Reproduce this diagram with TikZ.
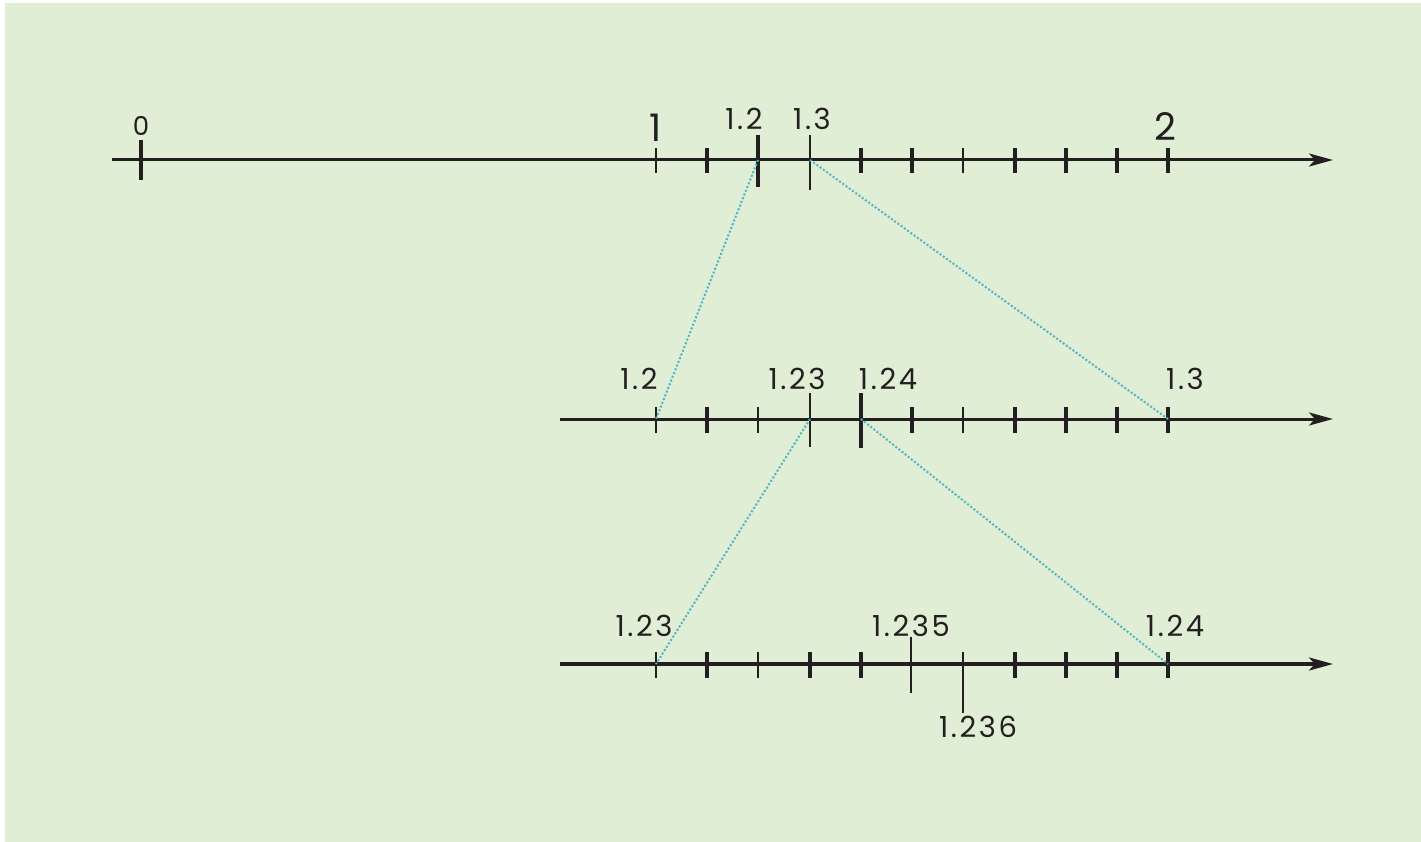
\documentclass[tikz,border=0pt]{standalone}
\usepackage{fontspec}
\setmainfont{Poppins}
\newfontfamily\labfont[LetterSpace=9]{Poppins}
\usetikzlibrary{arrows.meta}
\definecolor{bg}{RGB}{223,238,213}
\definecolor{ink}{RGB}{35,31,32}
\definecolor{guide}{RGB}{80,180,196}
\tikzset{
  axis/.style={draw=ink,line width=3pt,-{Stealth[length=24pt,width=13pt,inset=6pt]}},
  thintick/.style={draw=ink,line width=2pt},
  thicktick/.style={draw=ink,line width=4.5pt},
  guideline/.style={draw=guide,line width=2pt,dash pattern=on 2pt off 2pt},
  lab/.style={text=ink,font=\labfont\fontsize{29}{29}\selectfont,anchor=base,inner sep=0pt},
  biglab/.style={text=ink,font=\fontsize{38}{38}\selectfont,anchor=base,inner sep=0pt},
  smalllab/.style={text=ink,font=\fontsize{26}{26}\selectfont,anchor=base,inner sep=0pt}
}
\begin{document}
\begin{tikzpicture}[x=1pt,y=-1pt]
\useasboundingbox (0,0) rectangle (1421,842);
\fill[bg] (5,3) rectangle (1421,842);
% axes
\coordinate (a1s) at (112,160); \coordinate (a1e) at (1333,160);
\coordinate (a2s) at (560,419); \coordinate (a2e) at (1333,419);
\coordinate (a3s) at (560,664); \coordinate (a3e) at (1333,664);
\draw[axis] (a1s) -- (a1e);
\draw[axis] (a2s) -- (a2e);
\draw[axis,line width=3.5pt] (a3s) -- (a3e);
% top ticks
\draw[thicktick] (141,140) -- (141,180);
\foreach \x in {656,963} \draw[thintick] (\x,148) -- (\x,173);
\foreach \x in {707,861,912,1015,1066,1117,1168} \draw[thicktick] (\x,148) -- (\x,173);
\draw[thicktick] (758,135) -- (758,187);
\draw[thintick] (810,135) -- (810,190);
% middle ticks
\foreach \x in {656,758,963} \draw[thintick] (\x,407) -- (\x,433);
\foreach \x in {707,912,1015,1066,1117,1168} \draw[thicktick] (\x,407) -- (\x,433);
\draw[thintick] (810,393) -- (810,447);
\draw[thicktick] (861,393) -- (861,448);
% bottom ticks
\foreach \x in {656,758} \draw[thintick] (\x,652) -- (\x,678);
\foreach \x in {707,810,861,1015,1066,1117,1168} \draw[thicktick] (\x,652) -- (\x,678);
\draw[thintick] (911,637) -- (911,693);
\draw[thintick] (963,652) -- (963,713);
% guide points
\coordinate (t12) at (758,160); \coordinate (t13) at (810,160);
\coordinate (m12) at (656,419); \coordinate (m13) at (1168,419);
\coordinate (m123) at (810,419); \coordinate (m124) at (861,419);
\coordinate (b123) at (656,664); \coordinate (b124) at (1168,664);
\draw[guideline] (t12) -- (m12);
\draw[guideline] (t13) -- (m13);
\draw[guideline] (m123) -- (b123);
\draw[guideline] (m124) -- (b124);
% labels
\node[smalllab] (l0) at (141,136) {0};
\node[biglab] (l1) at (656,142) {1};
\node[lab] (l12) at (744,130) {1.2};
\node[lab] (l13) at (812,130) {1.3};
\node[biglab] (l2) at (1165,141) {2};
\node[lab] (m12l) at (639,389) {1.2};
\node[lab] (m123l) at (797,389) {1.23};
\node[lab] (m124l) at (888,389) {1.24};
\node[lab] (m13l) at (1185,389) {1.3};
\node[lab] (b123l) at (644,636) {1.23};
\node[lab] (b1235l) at (911,636) {1.235};
\node[lab] (b1236l) at (978,737) {1.236};
\node[lab] (b124l) at (1175,636) {1.24};
\end{tikzpicture}
\end{document}
